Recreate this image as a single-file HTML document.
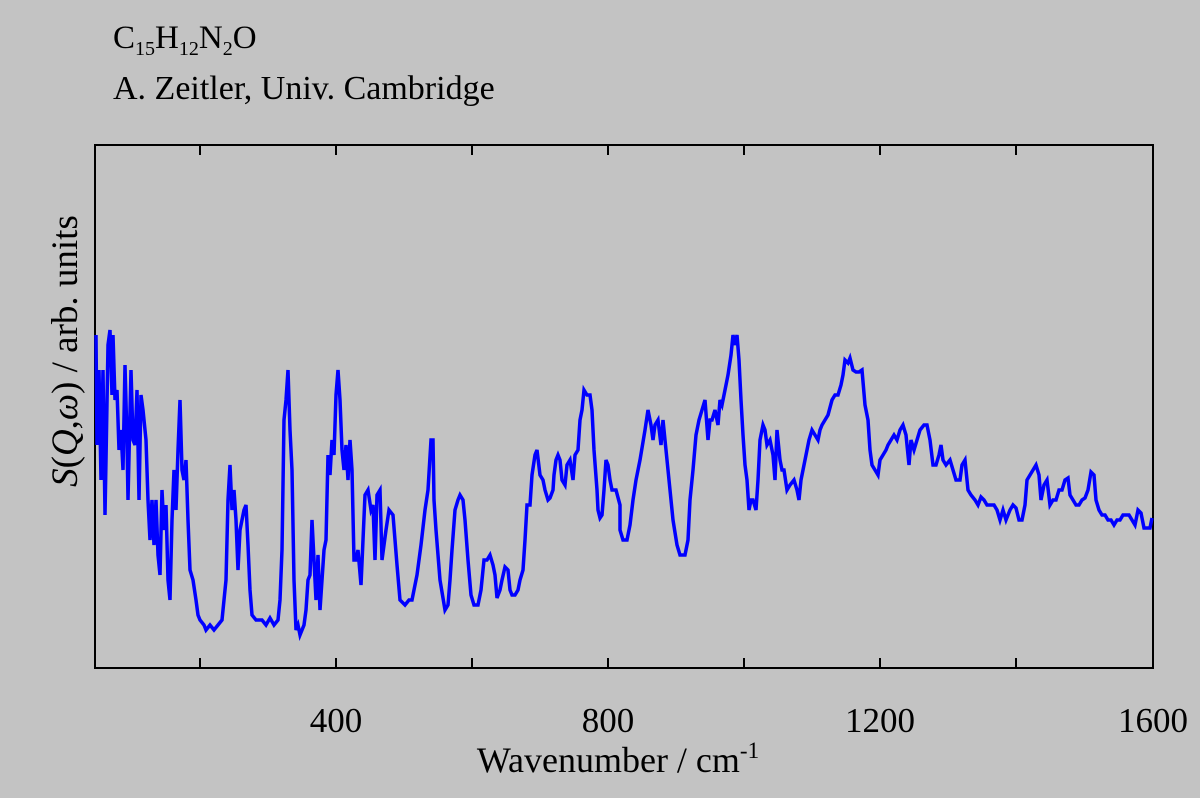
<!DOCTYPE html>
<html><head><style>
html,body{margin:0;padding:0;background:#c3c3c3;}
svg{display:block;font-family:"Liberation Serif",serif;}
</style></head><body>
<svg width="1200" height="798" viewBox="0 0 1200 798">
<rect width="1200" height="798" fill="#c3c3c3"/>
<text x="113" y="48" font-size="33">C<tspan font-size="20" dy="7">15</tspan><tspan dy="-7">H</tspan><tspan font-size="20" dy="7">12</tspan><tspan dy="-7">N</tspan><tspan font-size="20" dy="7">2</tspan><tspan dy="-7">O</tspan></text>
<text x="113" y="99" font-size="34">A. Zeitler, Univ. Cambridge</text>
<rect x="95" y="145" width="1058" height="523" fill="none" stroke="#000" stroke-width="2"/>
<g stroke="#000" stroke-width="2">
<line x1="200" y1="668" x2="200" y2="658"/><line x1="336" y1="668" x2="336" y2="658"/><line x1="472" y1="668" x2="472" y2="658"/><line x1="608" y1="668" x2="608" y2="658"/><line x1="744" y1="668" x2="744" y2="658"/><line x1="880" y1="668" x2="880" y2="658"/><line x1="1016" y1="668" x2="1016" y2="658"/>
<line x1="200" y1="145" x2="200" y2="155"/><line x1="336" y1="145" x2="336" y2="155"/><line x1="472" y1="145" x2="472" y2="155"/><line x1="608" y1="145" x2="608" y2="155"/><line x1="744" y1="145" x2="744" y2="155"/><line x1="880" y1="145" x2="880" y2="155"/><line x1="1016" y1="145" x2="1016" y2="155"/>
</g>
<g font-size="35" text-anchor="middle">
<text x="336" y="732">400</text><text x="608" y="732">800</text><text x="880" y="732">1200</text><text x="1153" y="732">1600</text>
<text x="618" y="772" font-size="36">Wavenumber / cm<tspan font-size="23" dy="-14">-1</tspan></text>
</g>
<text transform="translate(77,351) rotate(-90)" font-size="37" text-anchor="middle"><tspan font-style="italic">S</tspan>(<tspan font-style="italic">Q</tspan>,<tspan font-style="italic">ω</tspan>) / arb. units</text>
<polyline fill="none" stroke="#0000ff" stroke-width="3.5" stroke-linejoin="miter" points="
96,335 97,445 99,370 101,480 103,370 105,515 106,460 108,345 110,330 112,395 113,335 115,400 117,390 119,450 121,430 123,470 125,365 127,440 128,500 131,370 133,440 135,445 137,390 139,500 141,395 143,410 146,440 148,500 150,540 152,500 154,545 156,500 158,555 160,575 162,490 164,530 166,505 168,580 170,600 172,520 174,470 176,510 178,450 180,400 182,470 184,480 186,460 188,520 190,570 193,580 196,600 198,615 200,620 204,625 206,630 210,625 214,630 218,625 222,620 224,600 226,580 228,500 230,465 232,510 234,490 236,520 238,570 240,530 242,520 244,510 246,505 248,545 250,590 252,615 256,620 262,620 266,625 270,618 274,625 278,620 280,600 282,550 284,420 286,400 288,370 290,430 292,470 294,580 296,630 298,625 300,635 304,625 306,610 308,580 310,575 312,520 314,560 316,600 318,555 320,610 322,580 324,550 326,540 328,455 330,475 332,440 334,455 336,395 338,370 340,400 342,450 344,470 346,445 348,480 350,440 352,470 354,560 356,560 358,550 361,585 363,540 365,495 368,490 371,510 373,505 375,560 377,495 380,490 382,560 386,530 389,510 393,515 397,565 400,600 405,605 409,600 412,600 417,575 421,545 425,510 428,490 431,440 433,440 434,500 436,530 438,555 440,580 445,610 448,605 450,580 452,550 455,510 458,500 460,495 463,500 465,520 468,560 471,595 474,605 478,605 481,590 484,560 487,560 490,555 493,565 495,575 497,598 500,590 502,580 505,567 508,570 510,590 512,595 515,595 518,590 520,580 523,570 525,540 527,505 530,505 532,475 535,455 537,450 540,475 543,480 545,490 548,500 550,498 553,490 554,475 556,460 558,455 560,460 562,480 565,485 567,465 570,460 573,480 575,455 578,450 580,420 582,410 584,390 587,395 590,395 592,410 594,450 597,490 598,510 600,518 602,515 604,490 606,460 608,465 610,480 612,490 616,490 620,505 620,530 623,540 627,540 630,525 633,500 636,480 640,460 645,430 648,410 651,425 653,440 655,425 658,420 661,445 663,420 666,450 670,490 673,520 677,545 680,555 685,555 688,540 690,500 693,470 696,435 699,420 702,410 705,400 708,440 710,420 712,420 715,410 718,425 720,400 722,405 725,390 728,375 731,355 733,335 735,345 737,335 739,360 741,400 743,435 745,465 747,480 749,510 751,500 753,500 756,510 758,480 760,440 763,425 765,430 767,445 770,440 773,455 775,480 777,430 780,460 782,470 784,470 787,490 790,485 794,480 797,490 799,500 801,480 803,470 806,455 809,440 812,430 815,435 818,440 820,430 822,425 825,420 828,415 832,400 835,395 838,395 841,385 843,375 845,360 848,363 850,358 853,370 856,372 859,372 862,370 865,405 868,420 870,450 872,465 875,470 878,475 880,460 883,455 886,450 888,445 891,440 894,435 897,440 900,430 903,425 906,435 909,465 911,440 914,450 917,440 920,430 924,425 927,425 930,440 933,465 936,465 939,455 941,445 943,460 946,465 950,460 953,470 956,480 960,480 962,465 965,460 968,490 971,495 975,500 978,505 981,497 984,500 987,505 990,505 994,505 997,510 1000,520 1003,510 1006,520 1010,510 1013,505 1016,508 1019,520 1022,520 1025,505 1027,480 1030,475 1033,470 1036,465 1039,475 1041,500 1044,485 1047,480 1050,505 1053,500 1056,500 1059,490 1062,490 1065,480 1068,478 1070,495 1073,500 1076,505 1079,505 1082,500 1085,498 1088,490 1091,472 1094,475 1096,500 1099,510 1102,515 1105,515 1108,520 1111,520 1114,525 1117,520 1120,520 1123,515 1126,515 1129,515 1132,520 1135,525 1138,510 1141,513 1144,528 1147,528 1150,528 1152,518"/>
</svg>
</body></html>
